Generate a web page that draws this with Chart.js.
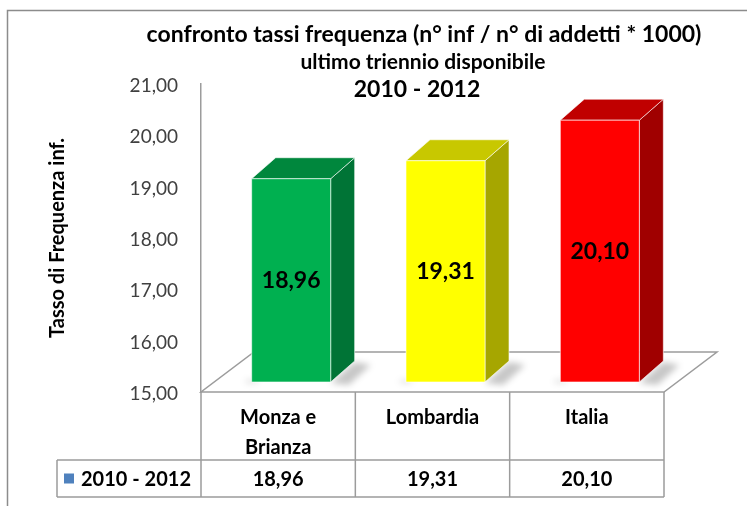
<!DOCTYPE html>
<html>
<head>
<meta charset="utf-8">
<script src="https://cdn.jsdelivr.net/npm/chart.js@4"></script>
<style>
  html, body { margin: 0; padding: 0; background: #fff; }
  #chart { display: block; }
</style>
</head>
<body>
<canvas id="chart" width="747" height="506"></canvas>
<script>
const titleLines = ['confronto tassi frequenza (n° inf / n° di addetti * 1000)', 'ultimo triennio disponibile', '2010 - 2012'];
const categories = [['Monza e', 'Brianza'], 'Lombardia', 'Italia'];
const seriesName = '2010 - 2012';
const values = [18.96, 19.31, 20.10];
const yMin = 15, yMax = 21, yStep = 1;
const yAxisTitle = 'Tasso di Frequenza inf.';

const frontColors = ['#00b050', '#ffff00', '#ff0000'];
const topColors = ['#00873d', '#c8c800', '#c00000'];
const sideColors = ['#007436', '#a6a600', '#a00000'];

const FONT = 'Lato, "Open Sans", sans-serif';
const GRID = '#9c9c9c';
const fmt = v => v.toFixed(2).replace('.', ',');

// fake 3d: floor depth, bar plane shift and bar depth
const FLOOR_DX = 53, FLOOR_DY = -40;
const SHIFT_X = 13, SHIFT_Y = -10;
const BAR_DX = 24, BAR_DY = -21;

function poly(ctx, pts, fill, stroke) {
    ctx.beginPath();
    ctx.moveTo(pts[0][0], pts[0][1]);
    for (let i = 1; i < pts.length; i++) ctx.lineTo(pts[i][0], pts[i][1]);
    ctx.closePath();
    if (fill) { ctx.fillStyle = fill; ctx.fill(); }
    if (stroke) { ctx.strokeStyle = stroke; ctx.stroke(); }
}

const backdrop = {
    id: 'backdrop',
    beforeDraw(chart) {
        const { ctx, chartArea: a } = chart;
        ctx.save();
        ctx.fillStyle = '#fff';
        ctx.fillRect(0, 0, chart.width, chart.height);

        // outer frame
        ctx.strokeStyle = '#8c8c8c';
        ctx.lineWidth = 1.5;
        ctx.beginPath();
        ctx.moveTo(7.5, chart.height);
        ctx.lineTo(7.5, 10.5);
        ctx.lineTo(chart.width, 10.5);
        ctx.stroke();

        // floor
        poly(ctx, [
            [a.left, a.bottom], [a.right, a.bottom],
            [a.right + FLOOR_DX, a.bottom + FLOOR_DY], [a.left + FLOOR_DX, a.bottom + FLOOR_DY]
        ], '#fff', GRID);

        // titles
        ctx.fillStyle = '#000';
        ctx.textAlign = 'center';
        ctx.textBaseline = 'middle';
        ctx.font = 'bold 23px ' + FONT;
        ctx.fillText(titleLines[0], 424, 35);
        ctx.font = 'bold 21px ' + FONT;
        ctx.fillText(titleLines[1], 423, 62);
        ctx.font = 'bold 23px ' + FONT;
        ctx.fillText(titleLines[2], 417, 90);
        ctx.restore();
    }
};

const bars3d = {
    id: 'bars3d',
    afterDatasetsDraw(chart) {
        const { ctx, chartArea: a } = chart;
        const ys = chart.scales.y;
        const meta = chart.getDatasetMeta(0);
        ctx.save();
        meta.data.forEach((el, i) => {
            const half = el.width / 2;
            const x1 = el.x - half + SHIFT_X, x2 = el.x + half + SHIFT_X;
            const yt = el.y + SHIFT_Y, yb = ys.getPixelForValue(yMin) + SHIFT_Y;

            // soft shadow on the floor
            ctx.save();
            ctx.filter = 'blur(3px)';
            poly(ctx, [[x2, yb + 1], [x2 + BAR_DX, yb + BAR_DY + 1], [x2 + BAR_DX + 16, yb + BAR_DY + 4], [x2 + 18, yb + 3]], 'rgba(0,0,0,0.22)');
            poly(ctx, [[x1 - 6, yb - 2], [x1 + 6, yb - 2], [x1 + 6, yb + 1], [x1 - 6, yb + 1]], 'rgba(0,0,0,0.15)');
            ctx.restore();

            ctx.lineWidth = 1;
            const edge = 'rgba(255,255,255,0.6)';
            poly(ctx, [[x2, yt], [x2 + BAR_DX, yt + BAR_DY], [x2 + BAR_DX, yb + BAR_DY], [x2, yb]], sideColors[i], edge);
            poly(ctx, [[x1, yt], [x1 + BAR_DX, yt + BAR_DY], [x2 + BAR_DX, yt + BAR_DY], [x2, yt]], topColors[i], edge);
            poly(ctx, [[x1, yt], [x2, yt], [x2, yb], [x1, yb]], frontColors[i], edge);

            ctx.fillStyle = '#000';
            ctx.font = 'bold 23px ' + FONT;
            ctx.textAlign = 'center';
            ctx.textBaseline = 'middle';
            ctx.fillText(fmt(values[i]), (x1 + x2) / 2, (yt + yb) / 2);
        });

        // data table under the floor
        const xs = chart.scales.x;
        const colW = (a.right - a.left) / categories.length;
        const row1 = a.bottom + 68, row2 = a.bottom + 105, legendLeft = 57;
        ctx.strokeStyle = GRID;
        ctx.lineWidth = 1.5;
        ctx.beginPath();
        ctx.moveTo(a.left, a.bottom); ctx.lineTo(a.left, row2);
        for (let i = 0; i < categories.length; i++) {
            const xr = xs.getPixelForValue(i) + colW / 2;
            ctx.moveTo(xr, a.bottom); ctx.lineTo(xr, row2);
        }
        ctx.moveTo(legendLeft, row1); ctx.lineTo(a.right, row1);
        ctx.moveTo(legendLeft, row2); ctx.lineTo(a.right, row2);
        ctx.moveTo(legendLeft, row1); ctx.lineTo(legendLeft, row2);
        ctx.stroke();

        ctx.fillStyle = '#000';
        ctx.font = 'bold 20px ' + FONT;
        ctx.textAlign = 'center';
        ctx.textBaseline = 'middle';
        categories.forEach((c, i) => {
            const cx = xs.getPixelForValue(i);
            const lines = Array.isArray(c) ? c : [c];
            lines.forEach((t, k) => ctx.fillText(t, cx, a.bottom + 26 + k * 30));
            ctx.fillText(fmt(values[i]), cx, (row1 + row2) / 2 + 1);
        });

        // legend key cell
        ctx.fillStyle = '#4f81bd';
        ctx.fillRect(legendLeft + 7, (row1 + row2) / 2 - 5, 10, 10);
        ctx.fillStyle = '#000';
        ctx.textAlign = 'left';
        ctx.fillText(seriesName, legendLeft + 24, (row1 + row2) / 2 + 1);
        ctx.restore();
    }
};

new Chart(document.getElementById('chart'), {
    type: 'bar',
    data: {
        labels: categories,
        datasets: [{
            label: seriesName,
            data: values,
            backgroundColor: 'rgba(0,0,0,0)',
            borderWidth: 0,
            categoryPercentage: 1,
            barPercentage: 0.512
        }]
    },
    options: {
        responsive: false,
        animation: false,
        layout: { padding: { left: 0, top: 84, right: 83, bottom: 114 } },
        plugins: {
            legend: { display: false },
            tooltip: { enabled: false },
            title: { display: false }
        },
        scales: {
            x: { display: false },
            y: {
                min: yMin,
                max: yMax,
                afterFit: s => { s.width = 201; },
                grid: { display: false },
                border: { display: true, color: GRID, width: 1.5 },
                ticks: {
                    stepSize: yStep,
                    padding: 15,
                    labelOffset: 2,
                    color: '#404040',
                    font: { family: FONT, size: 19 },
                    callback: v => fmt(v)
                },
                title: {
                    display: true,
                    text: yAxisTitle,
                    color: '#000',
                    font: { family: FONT, size: 20, weight: 'bold' },
                    padding: { top: 46, bottom: 0 }
                }
            }
        }
    },
    plugins: [backdrop, bars3d]
});
</script>
</body>
</html>
